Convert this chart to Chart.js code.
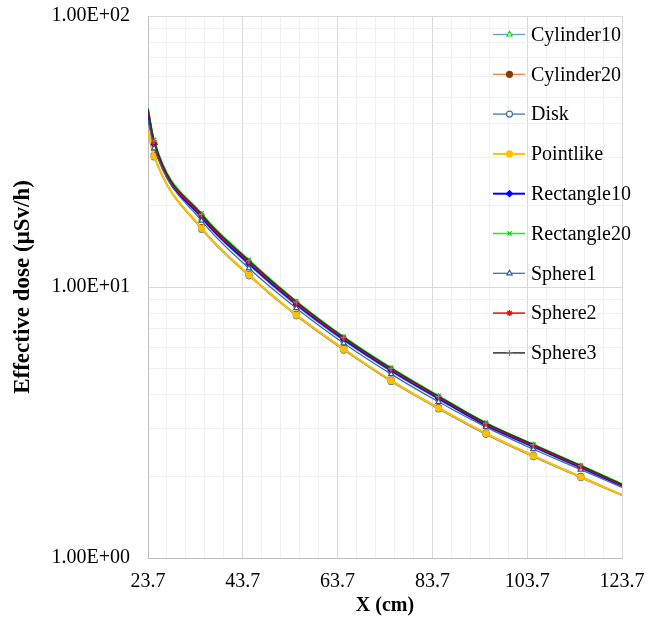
<!DOCTYPE html>
<html>
<head>
<meta charset="utf-8">
<script src="https://cdn.jsdelivr.net/npm/chart.js@4/dist/chart.umd.min.js"></script>
<style>
  html, body { margin: 0; padding: 0; background: #fff; }
  #c { display: block; }
</style>
</head>
<body>
<canvas id="c" width="661" height="621"></canvas>
<script>
// ---- data ----
const xValues = [23.7, 25, 35, 45, 55, 65, 75, 85, 95, 105, 115, 123.7];
const seriesNames = ['Cylinder10', 'Cylinder20', 'Disk', 'Pointlike', 'Rectangle10', 'Rectangle20', 'Sphere1', 'Sphere2', 'Sphere3'];
const cylinder10  = [42.5, 33.3, 17.90, 12.05, 8.53, 6.33, 4.87, 3.85, 3.07, 2.56, 2.145, 1.835];
const cylinder20  = [37.8, 30.6, 16.55, 11.12, 7.92, 5.92, 4.53, 3.59, 2.89, 2.39, 2.00, 1.715];
const disk        = [37.0, 30.2, 16.35, 11.00, 7.83, 5.85, 4.48, 3.55, 2.86, 2.365, 1.98, 1.700];
const pointlike   = [37.4, 30.4, 16.47, 11.07, 7.88, 5.89, 4.51, 3.57, 2.88, 2.38, 1.99, 1.707];
const rectangle10 = [44.0, 33.6, 18.10, 12.20, 8.63, 6.40, 4.92, 3.88, 3.09, 2.58, 2.16, 1.850];
const rectangle20 = [45.8, 34.9, 18.70, 12.60, 8.88, 6.56, 5.04, 3.97, 3.16, 2.63, 2.20, 1.880];
const sphere1     = [41.0, 32.5, 17.57, 11.72, 8.35, 6.20, 4.77, 3.77, 3.04, 2.52, 2.12, 1.820];
const sphere2     = [45.0, 34.2, 18.35, 12.38, 8.74, 6.47, 4.97, 3.92, 3.12, 2.60, 2.175, 1.860];
const sphere3     = [45.5, 34.6, 18.55, 12.50, 8.82, 6.52, 5.01, 3.95, 3.145, 2.62, 2.19, 1.870];
const seriesValues = [cylinder10, cylinder20, disk, pointlike, rectangle10, rectangle20, sphere1, sphere2, sphere3];

const xTickLabels = ['23.7', '43.7', '63.7', '83.7', '103.7', '123.7'];
const yTickLabels = ['1.00E+00', '1.00E+01', '1.00E+02'];
const yMajorValues = [1, 10, 100];

// ---- styles ----
const styles = [
  { line: '#5B9BD5', width: 1.25, marker: 'triangle', fill: '#ffffff', stroke: '#00E000' },
  { line: '#ED7D31', width: 1.25, marker: 'circle',   fill: '#843C0C', stroke: '#843C0C' },
  { line: '#41719C', width: 1.25, marker: 'circle',   fill: '#ffffff', stroke: '#41719C' },
  { line: '#FFC000', width: 2,    marker: 'circle',   fill: '#FFC000', stroke: '#FFC000' },
  { line: '#0000FF', width: 2,    marker: 'rectRot',  fill: '#0000FF', stroke: '#0000FF' },
  { line: '#00FF00', width: 1.5,  marker: 'crossRot', fill: '#00FF00', stroke: '#00D000' },
  { line: '#3E6D9C', width: 1.25, marker: 'triangle', fill: '#ffffff', stroke: '#2F5597' },
  { line: '#FF0000', width: 1.5,  marker: 'star',     fill: '#FF0000', stroke: '#FF0000' },
  { line: '#303030', width: 1.5,  marker: 'cross',    fill: '#808080', stroke: '#808080' }
];

const lastIdx = xValues.length - 1;
const datasets = seriesNames.map((name, i) => ({
  label: name,
  data: xValues.map((x, j) => ({ x: x, y: seriesValues[i][j] })),
  borderColor: styles[i].line,
  borderWidth: styles[i].width,
  pointStyle: styles[i].marker,
  pointBackgroundColor: styles[i].fill,
  pointBorderColor: styles[i].stroke,
  pointBorderWidth: 1.2,
  pointRadius: ctx => (ctx.dataIndex === 0 || ctx.dataIndex === lastIdx) ? 0 : 3,
  cubicInterpolationMode: 'monotone',
  fill: false,
  order: -i
}));

const xGridValues = [];
for (let i = 0; i <= 25; i++) xGridValues.push(Math.round((23.7 + 4 * i) * 10) / 10);
const yGridValues = [];
[1, 10].forEach(d => { for (let k = 1; k <= 9; k++) yGridValues.push(d * k); });
yGridValues.push(100);

const isXMajor = v => xTickLabels.some(l => Math.abs(parseFloat(l) - v) < 1e-6);
const isYMajor = v => yMajorValues.some(m => Math.abs(m - v) < 1e-9);

const legendPlugin = {
  id: 'customLegend',
  afterDraw(chart) {
    const ctx = chart.ctx;
    chart.data.datasets.forEach((ds, i) => {
      const y = 34.5 + i * 39.8;
      ctx.save();
      ctx.strokeStyle = ds.borderColor;
      ctx.lineWidth = ds.borderWidth;
      ctx.beginPath();
      ctx.moveTo(493, y);
      ctx.lineTo(525, y);
      ctx.stroke();
      ctx.fillStyle = ds.pointBackgroundColor;
      ctx.strokeStyle = ds.pointBorderColor;
      ctx.lineWidth = ds.pointBorderWidth;
      Chart.helpers.drawPoint(ctx, { pointStyle: ds.pointStyle, radius: 3, borderWidth: ds.pointBorderWidth, rotation: 0 }, 509.5, y);
      ctx.fillStyle = '#000';
      ctx.font = '20px "Liberation Serif"';
      ctx.textBaseline = 'middle';
      ctx.textAlign = 'left';
      ctx.fillText(ds.label, 531, y + 1);
      ctx.restore();
    });
  }
};

new Chart(document.getElementById('c'), {
  type: 'line',
  data: { datasets },
  plugins: [legendPlugin],
  options: {
    responsive: false,
    animation: false,
    devicePixelRatio: 1,
    layout: { padding: { left: 0, right: 39, top: 16, bottom: 0 } },
    plugins: { legend: { display: false }, tooltip: { enabled: false } },
    scales: {
      x: {
        type: 'linear',
        min: 23.7,
        max: 123.7,
        afterBuildTicks: s => { s.ticks = xGridValues.map(v => ({ value: v })); },
        afterFit: s => { s.height = 63; },
        ticks: {
          autoSkip: false,
          maxRotation: 0,
          padding: 12,
          color: '#000',
          font: { family: '"Liberation Serif"', size: 20 },
          callback: v => {
            const l = xTickLabels.find(t => Math.abs(parseFloat(t) - v) < 1e-6);
            return l === undefined ? '' : l;
          }
        },
        grid: {
          drawTicks: false,
          color: ctx => (ctx.tick && isXMajor(ctx.tick.value)) ? '#d9d9d9' : '#f0f0f0',
          lineWidth: 1
        },
        border: { color: '#bfbfbf', width: 1 },
        title: {
          display: true,
          text: 'X (cm)',
          color: '#000',
          font: { family: '"Liberation Serif"', size: 20, weight: 'bold' },
          padding: { top: 0, bottom: 3 }
        }
      },
      y: {
        type: 'logarithmic',
        min: 1,
        max: 100,
        afterBuildTicks: s => { s.ticks = yGridValues.map(v => ({ value: v })); },
        afterFit: s => { s.width = 148; s.paddingTop = 0; s.paddingBottom = 0; },
        ticks: {
          autoSkip: false,
          padding: 18,
          color: '#000',
          font: { family: '"Liberation Serif"', size: 20 },
          callback: v => {
            const k = yMajorValues.findIndex(m => Math.abs(m - v) < 1e-9);
            return k < 0 ? '' : yTickLabels[k];
          }
        },
        grid: {
          drawTicks: false,
          color: ctx => (ctx.tick && isYMajor(ctx.tick.value)) ? '#d9d9d9' : '#f0f0f0',
          lineWidth: 1
        },
        border: { color: '#bfbfbf', width: 1 },
        title: {
          display: true,
          text: 'Effective dose (μSv/h)',
          color: '#000',
          font: { family: '"Liberation Serif"', size: 23, weight: 'bold' },
          padding: { top: 9, bottom: 0 }
        }
      }
    }
  }
});
</script>
</body>
</html>
